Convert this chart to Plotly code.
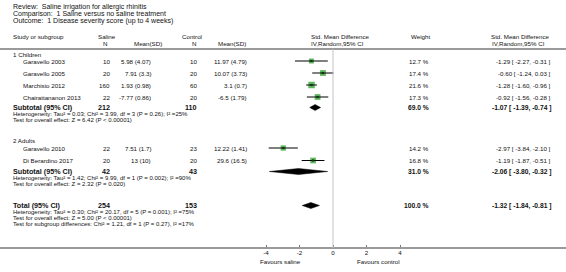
import plotly.graph_objects as go

W, H = 566, 272

# ---------------- data ----------------
title_lines = [
    "Review:  Saline irrigation for allergic rhinitis",
    "Comparison:  1 Saline versus no saline treatment",
    "Outcome:  1 Disease severity score (up to 4 weeks)",
]
group_names = ["1 Children", "2 Adults"]
study_names = ["Garavello 2003", "Garavello 2005", "Marchisio 2012",
               "Chairattananon 2013", "Garavello 2010", "Di Berardino 2017"]
saline_n = [10, 20, 160, 22, 22, 20]
saline_msd = ["5.98 (4.07)", "7.91 (3.3)", "1.93 (0.98)", "-7.77 (0.86)",
              "7.51 (1.7)", "13 (10)"]
control_n = [10, 20, 60, 20, 23, 20]
control_msd = ["11.97 (4.79)", "10.07 (3.73)", "3.1 (0.7)", "-6.5 (1.79)",
               "12.22 (1.41)", "29.6 (16.5)"]
smd = [-1.29, -0.60, -1.28, -0.92, -2.97, -1.19]
ci_low = [-2.27, -1.24, -1.60, -1.56, -3.84, -1.87]
ci_high = [-0.31, 0.03, -0.96, -0.28, -2.10, -0.51]
weight = [12.7, 17.4, 21.6, 17.3, 14.2, 16.8]

sub_saline_n = [212, 42]
sub_control_n = [110, 43]
sub_weight = [69.0, 31.0]
sub_smd = [-1.07, -2.06]
sub_low = [-1.39, -3.80]
sub_high = [-0.74, -0.32]
sub_het = [
    "Heterogeneity: Tau² = 0.03; Chi² = 3.99, df = 3 (P = 0.26); I² =25%",
    "Heterogeneity: Tau² = 1.42; Chi² = 9.99, df = 1 (P = 0.002); I² =90%",
]
sub_test = [
    "Test for overall effect: Z = 6.42 (P < 0.00001)",
    "Test for overall effect: Z = 2.32 (P = 0.020)",
]

total_saline_n = 254
total_control_n = 153
total_weight = 100.0
total_smd = -1.32
total_low = -1.84
total_high = -0.81
total_notes = [
    "Heterogeneity: Tau² = 0.30; Chi² = 20.17, df = 5 (P = 0.001); I² =75%",
    "Test for overall effect: Z = 5.00 (P < 0.00001)",
    "Test for subgroup differences: Chi² = 1.21, df = 1 (P = 0.27), I² =17%",
]

axis_ticks = [-4, -2, 0, 2, 4]
favours_labels = ["Favours saline", "Favours control"]

# ---------------- layout (pixel positions) ----------------
title_y = [7, 14, 21]
head1_y, head2_y = 36, 43
header_line_y = 49
group_y = [54.5, 140.5]
study_y = [61, 73, 85, 97, 148, 160.5]
sub_y = [107.5, 171.5]
sub_het_y = [113.5, 177.5]
sub_test_y = [119.5, 183.5]
total_y = 205.5
total_notes_y = [211.5, 217.5, 223.5]
axis_y = 248
fav_y = 261

X_LEFT = 12
X_STUDY = 22
X_SN = 111      # right edge saline N
X_SM = 152      # right edge saline mean(sd)
X_CN = 198
X_CM = 248
X_W = 430
X_CI = 552

ZERO_PX = 333.0
PX_PER_UNIT = 16.75
PLOT_L, PLOT_R = 250.0, 416.0
x2_range = [(PLOT_L - ZERO_PX) / PX_PER_UNIT, (PLOT_R - ZERO_PX) / PX_PER_UNIT]

FONT = "Liberation Sans, Arial, sans-serif"
FS = 6.2
FS_TITLE = 7.0
FS_SMALL = 6.0
FS_BOLD = 7.2
FS_BOLD2 = 6.7
TXT = "#111111"
GREEN = "#1f9a1f"

fig = go.Figure()
ann = []


def t(x, y, s, anchor="left", size=FS, bold=False):
    ann.append(dict(
        x=x, y=y, xref="x", yref="y", text=("<b>%s</b>" % s) if bold else s,
        showarrow=False, xanchor=anchor, yanchor="middle",
        font=dict(family=FONT, size=size, color=TXT), borderpad=0,
    ))


def ci_text(e, lo, hi):
    return "%.2f [ %.2f, %.2f ]" % (e, lo, hi)


# title
for s, y in zip(title_lines, title_y):
    t(X_LEFT, y, s, size=FS_TITLE)

# headers
t(X_LEFT, head1_y, "Study or subgroup")
t(97, head1_y, "Saline")
t(105, head2_y, "N", "center")
t(148, head2_y, "Mean(SD)", "center")
t(181, head1_y, "Control")
t(194, head2_y, "N", "center")
t(232, head2_y, "Mean(SD)", "center")
t(340, head1_y, "Std. Mean Difference", "center")
t(337, head2_y, "IV,Random,95% CI", "center")
t(420, head1_y, "Weight", "center")
t(520, head1_y, "Std. Mean Difference", "center")
t(518, head2_y, "IV,Random,95% CI", "center")

groups = [[0, 1, 2, 3], [4, 5]]
for g, idx in enumerate(groups):
    t(X_LEFT, group_y[g], group_names[g])
    for i in idx:
        y = study_y[i]
        t(X_STUDY, y, study_names[i])
        t(X_SN, y, str(saline_n[i]), "right")
        t(X_SM, y, saline_msd[i], "right")
        t(X_CN, y, str(control_n[i]), "right")
        t(X_CM, y, control_msd[i], "right")
        t(X_W, y, "%.1f %%" % weight[i], "right")
        t(X_CI, y, ci_text(smd[i], ci_low[i], ci_high[i]), "right")
    y = sub_y[g]
    t(X_LEFT, y, "Subtotal (95% CI)", size=FS_BOLD, bold=True)
    t(X_SN, y, str(sub_saline_n[g]), "right", size=FS_BOLD, bold=True)
    t(X_CN, y, str(sub_control_n[g]), "right", size=FS_BOLD, bold=True)
    t(X_W, y, "%.1f %%" % sub_weight[g], "right", size=FS_BOLD2, bold=True)
    t(X_CI, y, ci_text(sub_smd[g], sub_low[g], sub_high[g]), "right", size=FS_BOLD2, bold=True)
    t(X_LEFT, sub_het_y[g], sub_het[g], size=FS_SMALL)
    t(X_LEFT, sub_test_y[g], sub_test[g], size=FS_SMALL)

t(X_LEFT, total_y, "Total (95% CI)", size=FS_BOLD, bold=True)
t(X_SN, total_y, str(total_saline_n), "right", size=FS_BOLD, bold=True)
t(X_CN, total_y, str(total_control_n), "right", size=FS_BOLD, bold=True)
t(X_W, total_y, "%.1f %%" % total_weight, "right", size=FS_BOLD2, bold=True)
t(X_CI, total_y, ci_text(total_smd, total_low, total_high), "right", size=FS_BOLD2, bold=True)
for s, y in zip(total_notes, total_notes_y):
    t(X_LEFT, y, s, size=FS_SMALL)

t(280, fav_y, favours_labels[0], "center")
t(378, fav_y, favours_labels[1], "center")

# ---------------- marks on effect axis ----------------
fig.add_trace(go.Scatter(
    x=smd, y=study_y, xaxis="x2", yaxis="y", mode="markers",
    marker=dict(symbol="square", color=GREEN,
                size=[1.4 * w ** 0.5 for w in weight], line=dict(width=0)),
    hoverinfo="skip", showlegend=False))
lx, ly = [], []
for i in range(len(smd)):
    lx += [ci_low[i], ci_high[i], None]
    ly += [study_y[i], study_y[i], None]
fig.add_trace(go.Scatter(x=lx, y=ly, xaxis="x2", yaxis="y", mode="lines",
                         line=dict(color="black", width=1), hoverinfo="skip",
                         showlegend=False))
fig.add_trace(go.Scatter(
    x=smd, y=study_y, xaxis="x2", yaxis="y", mode="markers",
    marker=dict(symbol="square", color="#0a3a0a", size=2.2),
    hoverinfo="skip", showlegend=False))

dia = [(sub_smd[g], sub_low[g], sub_high[g], sub_y[g]) for g in range(2)]
dia.append((total_smd, total_low, total_high, total_y))
for e, lo, hi, yc in dia:
    hh = 3.0
    fig.add_trace(go.Scatter(
        x=[lo, e, hi, e, lo], y=[yc, yc - hh, yc, yc + hh, yc],
        xaxis="x2", yaxis="y", mode="lines", fill="toself",
        fillcolor="black", line=dict(color="black", width=0.5),
        hoverinfo="skip", showlegend=False))

shapes = [
    dict(type="line", xref="paper", yref="y", x0=0, x1=1,
         y0=header_line_y, y1=header_line_y, line=dict(color="#9a9a9a", width=2)),
    dict(type="line", xref="paper", yref="y", x0=0, x1=1,
         y0=axis_y, y1=axis_y, line=dict(color="#9a9a9a", width=2)),
    dict(type="line", xref="x2", yref="y", x0=0, x1=0,
         y0=header_line_y, y1=axis_y, line=dict(color="#c4c4c4", width=1)),
]

fig.update_layout(
    width=W, height=H, margin=dict(l=0, r=0, t=0, b=0),
    paper_bgcolor="white", plot_bgcolor="white",
    showlegend=False,
    xaxis=dict(range=[0, W], domain=[0, 1], visible=False, fixedrange=True),
    yaxis=dict(range=[H, 0], domain=[0, 1], visible=False, fixedrange=True),
    xaxis2=dict(range=x2_range, domain=[PLOT_L / W, PLOT_R / W],
                anchor="free", position=1 - axis_y / H,
                tickvals=axis_ticks, ticktext=[str(v) for v in axis_ticks],
                ticks="inside", ticklen=3, tickcolor="#777777", tickwidth=1,
                showline=False, showgrid=False, zeroline=False,
                tickfont=dict(family=FONT, size=FS, color=TXT), fixedrange=True),
    shapes=shapes, annotations=ann,
)

fig.write_html("out.html", config={"displayModeBar": False},
               post_script="document.body.style.margin='0';document.body.style.overflow='hidden';")
